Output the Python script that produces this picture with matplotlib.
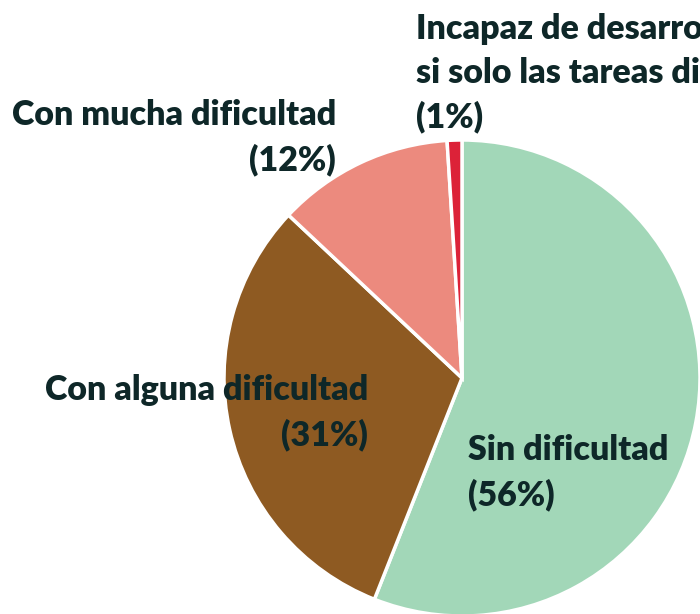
import matplotlib
matplotlib.use("Agg")
import matplotlib.pyplot as plt

categories = ["Sin dificultad", "Con alguna dificultad", "Con mucha dificultad",
              "Incapaz de desarrollar por\nsi solo las tareas diarias"]
values = [56, 31, 12, 1]
colors = ["#A2D7B8", "#8E5A22", "#EC8A7E", "#DC2238"]
text_color = "#0E2728"

W, H = 700, 614
fig = plt.figure(figsize=(W / 100, H / 100), dpi=100)
ax = fig.add_axes([0, 0, 1, 1])

ax.pie(values, colors=colors, startangle=90, counterclock=False,
       center=(462, H - 378), radius=238, frame=True,
       wedgeprops=dict(edgecolor="white", linewidth=2.5))
ax.set_xlim(0, W)
ax.set_ylim(0, H)
ax.set_aspect("equal")
ax.axis("off")

font = dict(family=["Lato", "DejaVu Sans"], weight="heavy", color=text_color,
            fontsize=24.5, linespacing=1.45)

def lab(i):
    return f"{categories[i]}\n({values[i]}%)"

ax.text(416, H - 13, lab(3), ha="left", va="top", **font)
ax.text(336, H - 99, lab(2), ha="right", va="top", multialignment="right", **font)
ax.text(368, H - 374, lab(1), ha="right", va="top", multialignment="right", **font)
ax.text(468, H - 434, lab(0), ha="left", va="top", **font)

fig.savefig("out.png", dpi=100)
